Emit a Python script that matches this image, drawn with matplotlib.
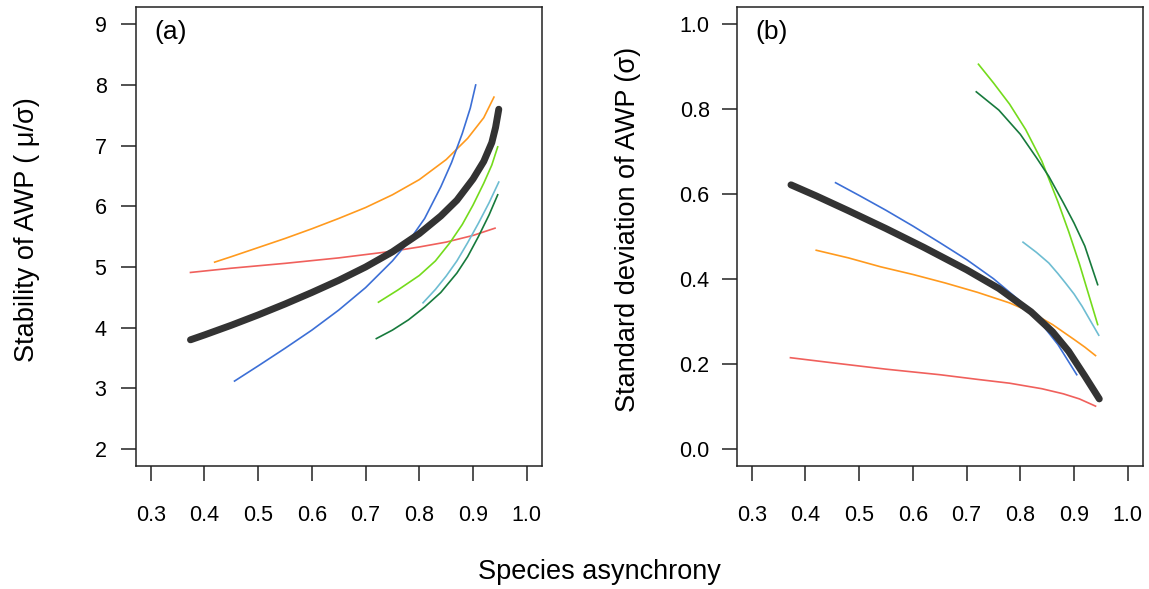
import matplotlib
matplotlib.use("Agg")
import matplotlib.pyplot as plt

plt.rcParams['font.family'] = ['Liberation Sans', 'DejaVu Sans']

# colours of the single curves
col_red = '#F0605C'
col_orange = '#FF9A1E'
col_blue = '#3C6FD6'
col_lime = '#74DB1C'
col_dkgreen = '#177A3C'
col_cyan = '#6EBDD2'
col_mean = '#333333'

# ---- panel (a): stability vs asynchrony ----
a_mean_x = [0.374, 0.40, 0.45, 0.50, 0.55, 0.60, 0.65, 0.70, 0.75, 0.80, 0.84, 0.87, 0.90, 0.92, 0.935, 0.942, 0.948]
a_mean_y = [3.80, 3.88, 4.04, 4.21, 4.39, 4.58, 4.78, 5.00, 5.25, 5.55, 5.84, 6.10, 6.45, 6.74, 7.05, 7.30, 7.60]

a_blue_x = [0.456, 0.50, 0.55, 0.60, 0.65, 0.70, 0.75, 0.78, 0.81, 0.84, 0.86, 0.88, 0.895, 0.905]
a_blue_y = [3.12, 3.37, 3.66, 3.96, 4.29, 4.66, 5.10, 5.42, 5.80, 6.32, 6.72, 7.20, 7.62, 8.00]

a_orange_x = [0.419, 0.45, 0.50, 0.55, 0.60, 0.65, 0.70, 0.75, 0.80, 0.85, 0.89, 0.92, 0.939]
a_orange_y = [5.08, 5.17, 5.32, 5.47, 5.63, 5.80, 5.98, 6.19, 6.44, 6.77, 7.12, 7.46, 7.80]

a_red_x = [0.374, 0.45, 0.55, 0.65, 0.75, 0.80, 0.85, 0.90, 0.941]
a_red_y = [4.91, 4.98, 5.06, 5.15, 5.26, 5.33, 5.41, 5.52, 5.64]

a_lime_x = [0.724, 0.76, 0.80, 0.83, 0.857, 0.88, 0.90, 0.92, 0.935, 0.946]
a_lime_y = [4.42, 4.62, 4.86, 5.10, 5.40, 5.70, 6.02, 6.38, 6.68, 6.98]

a_cyan_x = [0.807, 0.83, 0.85, 0.87, 0.89, 0.91, 0.93, 0.948]
a_cyan_y = [4.41, 4.63, 4.85, 5.10, 5.40, 5.72, 6.06, 6.40]

a_dkgreen_x = [0.720, 0.75, 0.78, 0.81, 0.84, 0.87, 0.89, 0.91, 0.93, 0.946]
a_dkgreen_y = [3.82, 3.96, 4.13, 4.34, 4.58, 4.90, 5.17, 5.50, 5.86, 6.19]

# ---- panel (b): standard deviation vs asynchrony ----
b_mean_x = [0.373, 0.42, 0.48, 0.55, 0.62, 0.70, 0.76, 0.82, 0.86, 0.89, 0.92, 0.947]
b_mean_y = [0.622, 0.596, 0.561, 0.519, 0.475, 0.422, 0.378, 0.323, 0.276, 0.230, 0.172, 0.118]

b_blue_x = [0.456, 0.50, 0.55, 0.60, 0.65, 0.70, 0.75, 0.80, 0.84, 0.87, 0.905]
b_blue_y = [0.627, 0.597, 0.562, 0.525, 0.486, 0.446, 0.401, 0.348, 0.294, 0.246, 0.175]

b_orange_x = [0.420, 0.48, 0.54, 0.60, 0.66, 0.72, 0.78, 0.82, 0.86, 0.90, 0.92, 0.940]
b_orange_y = [0.468, 0.450, 0.429, 0.411, 0.391, 0.369, 0.344, 0.322, 0.293, 0.258, 0.240, 0.220]

b_red_x = [0.372, 0.45, 0.55, 0.65, 0.72, 0.78, 0.84, 0.88, 0.91, 0.940]
b_red_y = [0.215, 0.203, 0.188, 0.175, 0.164, 0.155, 0.142, 0.130, 0.118, 0.101]

b_lime_x = [0.722, 0.75, 0.78, 0.81, 0.84, 0.87, 0.89, 0.91, 0.93, 0.944]
b_lime_y = [0.906, 0.862, 0.812, 0.752, 0.678, 0.582, 0.512, 0.436, 0.352, 0.293]

b_dkgreen_x = [0.718, 0.76, 0.80, 0.83, 0.853, 0.88, 0.90, 0.92, 0.944]
b_dkgreen_y = [0.841, 0.798, 0.741, 0.686, 0.642, 0.580, 0.532, 0.478, 0.387]

b_cyan_x = [0.805, 0.83, 0.853, 0.87, 0.884, 0.90, 0.915, 0.93, 0.946]
b_cyan_y = [0.487, 0.463, 0.438, 0.413, 0.391, 0.365, 0.336, 0.303, 0.268]

x_ticks = [0.3, 0.4, 0.5, 0.6, 0.7, 0.8, 0.9, 1.0]
a_yticks = [2, 3, 4, 5, 6, 7, 8, 9]
b_yticks = [0.0, 0.2, 0.4, 0.6, 0.8, 1.0]


def r_lim(lo, hi):
    # R style 4% padding
    d = (hi - lo) * 0.04
    return lo - d, hi + d


def style_axes(ax, yticks, ylabel, ylab_fmt, letter, ypad):
    ax.set_xlim(r_lim(0.3, 1.0))
    ax.set_ylim(r_lim(yticks[0], yticks[-1]))
    ax.set_xticks(x_ticks)
    ax.set_xticklabels(['%.1f' % v for v in x_ticks])
    ax.set_yticks(yticks)
    ax.set_yticklabels([ylab_fmt % v for v in yticks])
    ax.tick_params(axis='x', direction='out', length=11, width=1.1, pad=17,
                   labelsize=15.5, color='#222222')
    ax.tick_params(axis='y', direction='out', length=11, width=1.1, pad=ypad,
                   labelsize=15.5, color='#222222')
    for s in ax.spines.values():
        s.set_linewidth(1.1)
        s.set_color('#222222')
    ax.set_ylabel(ylabel, fontsize=19.5, va='center')
    ax.yaxis.set_label_coords(-0.268, 0.515)
    ax.text(0.047, 0.946, letter, transform=ax.transAxes, fontsize=19,
            ha='left', va='center')


fig = plt.figure(figsize=(11.49, 5.89), dpi=100)
ax1 = fig.add_axes([0.1181, 0.2088, 0.3534, 0.7788])
ax2 = fig.add_axes([0.6412, 0.2088, 0.3534, 0.7788])

thin = 1.2
for xs, ys, c in [(a_red_x, a_red_y, col_red), (a_orange_x, a_orange_y, col_orange),
                  (a_blue_x, a_blue_y, col_blue), (a_lime_x, a_lime_y, col_lime),
                  (a_cyan_x, a_cyan_y, col_cyan), (a_dkgreen_x, a_dkgreen_y, col_dkgreen)]:
    ax1.plot(xs, ys, color=c, lw=thin)
ax1.plot(a_mean_x, a_mean_y, color=col_mean, lw=5, solid_capstyle='round',
         solid_joinstyle='round')

for xs, ys, c in [(b_red_x, b_red_y, col_red), (b_orange_x, b_orange_y, col_orange),
                  (b_blue_x, b_blue_y, col_blue), (b_lime_x, b_lime_y, col_lime),
                  (b_cyan_x, b_cyan_y, col_cyan), (b_dkgreen_x, b_dkgreen_y, col_dkgreen)]:
    ax2.plot(xs, ys, color=c, lw=thin)
ax2.plot(b_mean_x, b_mean_y, color=col_mean, lw=5, solid_capstyle='round',
         solid_joinstyle='round')

style_axes(ax1, a_yticks, 'Stability of AWP ( \u03bc/\u03c3)', '%d', '(a)', 10)
style_axes(ax2, b_yticks, 'Standard deviation of AWP (\u03c3)', '%.1f', '(b)', 8.5)

fig.text(0.522, 0.029, 'Species asynchrony', fontsize=19.5, ha='center', va='center')

fig.savefig('out.png', dpi=100)
